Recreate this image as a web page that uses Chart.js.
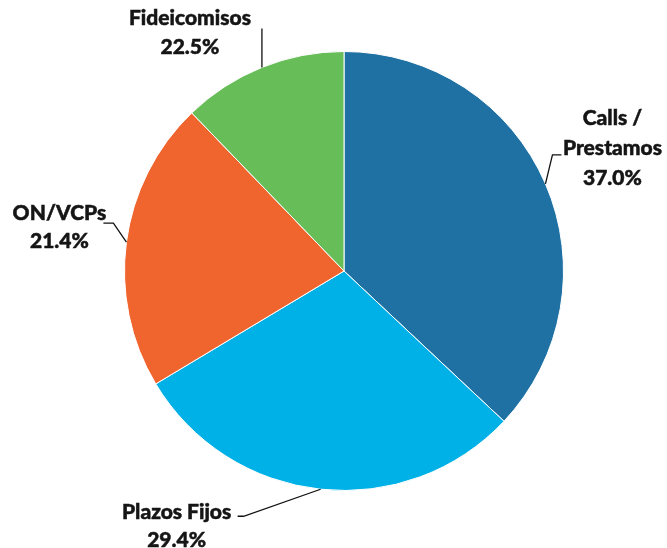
<!DOCTYPE html>
<html>
<head>
<meta charset="utf-8">
<script src="https://cdn.jsdelivr.net/npm/chart.js@4/dist/chart.umd.min.js"></script>
<style>
html,body{margin:0;padding:0;background:#fff;}
#wrap{width:667px;height:548px;position:relative;}
</style>
</head>
<body>
<div id="wrap"><canvas id="c" width="667" height="548"></canvas></div>
<script>
// Data
const categories = ["Calls /\nPrestamos", "Plazos Fijos", "ON/VCPs", "Fideicomisos"];
const sliceValues = [37.0, 29.4, 21.4, 12.2];          // drawn slice sizes
const percentLabels = ["37.0%", "29.4%", "21.4%", "22.5%"]; // printed labels
const colors = ["#1F71A4", "#00B1E7", "#F0642D", "#67BD57"];

// Label layout (leader elbow offset from slice edge, horizontal tail, text anchor offset)
const labelLayout = [
  {elbow:[7,-29], tail:9,  text:[67,-66], lh:30},
  {elbow:[-77,27], tail:-6, text:[-144,23], lh:28},
  {elbow:[-13,-19], tail:-10, text:[-67,-29], lh:28},
  {elbow:[0,-39], tail:0,  text:[-72,-49], lh:29}
];

const labelPlugin = {
  id: 'outLabels',
  afterDraw(chart) {
    const ctx = chart.ctx;
    const meta = chart.getDatasetMeta(0);
    ctx.save();
    ctx.strokeStyle = '#111';
    ctx.lineWidth = 1.3;
    meta.data.forEach((arc, i) => {
      const p = arc.getProps(['x','y','startAngle','endAngle','outerRadius'], true);
      const mid = (p.startAngle + p.endAngle) / 2;
      const ex = p.x + Math.cos(mid) * p.outerRadius;
      const ey = p.y + Math.sin(mid) * p.outerRadius;
      const L = labelLayout[i];
      const bx = ex + L.elbow[0], by = ey + L.elbow[1];
      ctx.beginPath();
      ctx.moveTo(ex, ey);
      ctx.lineTo(bx, by);
      ctx.lineTo(bx + L.tail, by);
      ctx.stroke();
    });
    ctx.font = '900 21px Lato, "Open Sans", sans-serif';
    ctx.fillStyle = '#151515';
    ctx.strokeStyle = '#151515';
    ctx.lineWidth = 0.5;
    ctx.textAlign = 'center';
    ctx.textBaseline = 'middle';
    meta.data.forEach((arc, i) => {
      const p = arc.getProps(['x','y','startAngle','endAngle','outerRadius'], true);
      const mid = (p.startAngle + p.endAngle) / 2;
      const ex = p.x + Math.cos(mid) * p.outerRadius;
      const ey = p.y + Math.sin(mid) * p.outerRadius;
      const L = labelLayout[i];
      const lines = categories[i].split("\n").concat([percentLabels[i]]);
      const tx = ex + L.text[0];
      const ty0 = ey + L.text[1];
      lines.forEach((t, k) => {
        ctx.fillText(t, tx, ty0 + k * L.lh);
        ctx.strokeText(t, tx, ty0 + k * L.lh);
      });
    });
    ctx.restore();
  }
};

new Chart(document.getElementById('c'), {
  type: 'pie',
  data: {
    labels: categories,
    datasets: [{
      data: sliceValues,
      backgroundColor: colors,
      borderColor: '#ffffff',
      borderWidth: 1
    }]
  },
  options: {
    responsive: false,
    devicePixelRatio: 1,
    animation: false,
    layout: { padding: { left: 124, right: 103, top: 51, bottom: 57 } },
    plugins: { legend: { display: false }, tooltip: { enabled: false } }
  },
  plugins: [labelPlugin]
});
</script>
</body>
</html>
